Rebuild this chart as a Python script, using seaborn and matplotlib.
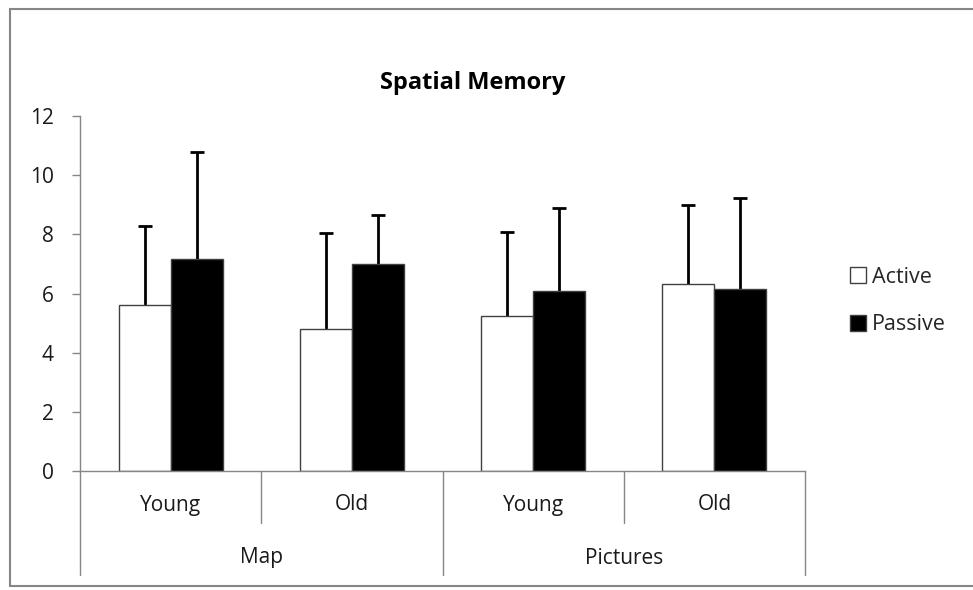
import matplotlib
matplotlib.use("Agg")
import matplotlib.pyplot as plt
import matplotlib.transforms as mtransforms
from matplotlib.lines import Line2D
import seaborn as sns
import pandas as pd
import numpy as np

# ---- data ----
conditions = ["Map Young", "Map Old", "Pictures Young", "Pictures Old"]
sub_labels = ["Young", "Old", "Young", "Old"]
group_labels = ["Map", "Pictures"]
active_mean = [5.6, 4.8, 5.25, 6.33]
passive_mean = [7.18, 7.0, 6.08, 6.16]
active_top = [8.27, 8.06, 8.09, 8.99]
passive_top = [10.8, 8.65, 8.88, 9.22]
yticks = [0, 2, 4, 6, 8, 10, 12]

df = pd.DataFrame({
    "cond": conditions * 2,
    "mode": ["Active"] * 4 + ["Passive"] * 4,
    "score": active_mean + passive_mean,
})

sns.set_theme(style="white")
plt.rcParams["font.family"] = ["Open Sans", "DejaVu Sans"]

W, H = 973, 590
fig = plt.figure(figsize=(W / 100, H / 100), dpi=100)
ax = fig.add_axes([80 / W, 1 - 471 / H, (805 - 80) / W, (471 - 116) / H])

gray = "#868686"
sns.barplot(data=df, x="cond", y="score", hue="mode", order=conditions,
            hue_order=["Active", "Passive"],
            palette={"Active": "white", "Passive": "black"},
            edgecolor="#404040", linewidth=1.0, width=0.575, ax=ax,
            errorbar=None, legend=True)
for p in ax.patches:
    p.set_zorder(3)

# error bars (upper only, cap at top only)
tops = [active_top, passive_top]
for cont, top in zip(ax.containers, tops):
    xs = [p.get_x() + p.get_width() / 2 for p in cont.patches]
    hs = [p.get_height() for p in cont.patches]
    ax.vlines(xs, hs, top, colors="black", linewidth=2, zorder=2)
    ax.plot(xs, top, linestyle="none", marker="_", markersize=10,
            markeredgewidth=2, color="black", zorder=2)

ax.set_ylim(0, 12)
ax.set_xlim(-0.5, 3.5)
ax.set_yticks(yticks)
ax.set_yticklabels([str(t) for t in yticks], fontsize=15, color="#1a1a1a")
ax.set_xticks([])
ax.set_xlabel("")
ax.set_ylabel("")
for s in ["top", "right"]:
    ax.spines[s].set_visible(False)
for s in ["left", "bottom"]:
    ax.spines[s].set_color(gray)
    ax.spines[s].set_linewidth(1)
    ax.spines[s].set_zorder(4)
ax.tick_params(axis="y", direction="out", length=6, width=1, color=gray,
               pad=13, left=True)

# category axis
trans = mtransforms.blended_transform_factory(ax.transData, fig.transFigure)
y0 = 1 - 471 / H
for xb, ylow in [(-0.5, 575), (0.5, 523), (1.5, 575), (2.5, 523), (3.5, 575)]:
    ax.add_line(Line2D([xb, xb], [y0, 1 - ylow / H], transform=trans,
                       color=gray, lw=1, clip_on=False))
for i, lab in enumerate(sub_labels):
    ax.text(i, 1 - 505 / H, lab, transform=trans, ha="center", va="center",
            fontsize=15, color="#1a1a1a")
for i, lab in enumerate(group_labels):
    ax.text(2 * i + 0.5, 1 - 558 / H, lab, transform=trans, ha="center",
            va="center", fontsize=15, color="#1a1a1a")

# legend
handles, labels = ax.get_legend_handles_labels()
ax.get_legend().remove()
fig.legend(handles, labels, loc="center left",
           bbox_to_anchor=(831 / W, 1 - 301 / H), frameon=False,
           fontsize=15.5, handlelength=0.72, handleheight=0.72,
           handletextpad=0.3, labelspacing=1.25)

# title
fig.text(473 / W, 1 - 83 / H, "Spatial Memory", ha="center", va="center",
         fontsize=17, fontweight="bold", color="black")

# outer chart border
for xs_, ys_ in [([10, 10], [9, 586]), ([10, 990], [9, 9]), ([10, 990], [586, 586])]:
    fig.add_artist(Line2D([x / W for x in xs_], [1 - y / H for y in ys_],
                          transform=fig.transFigure, color=gray, lw=1.5))

fig.savefig("out.png", dpi=100)
